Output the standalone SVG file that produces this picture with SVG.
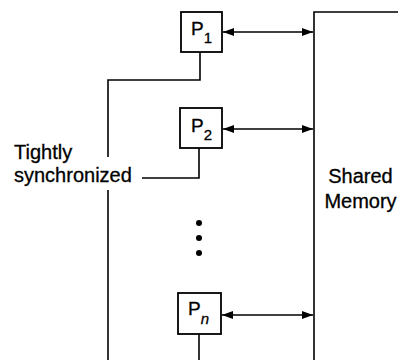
<svg xmlns="http://www.w3.org/2000/svg" width="398" height="360" viewBox="0 0 398 360">
<style>
.box{fill:#fff;stroke:#000;stroke-width:1.8}
.ln{fill:none;stroke:#000;stroke-width:1.6}
.lbl{font-family:"Liberation Sans",Arial,sans-serif;fill:#000;stroke:#000;stroke-width:0.3}
.p{font-size:19px}
.sub{font-size:15px}
.txt{font-size:20px}
</style>
<defs>
<marker id="ah" viewBox="0 0 11 8" refX="11" refY="4" markerWidth="11" markerHeight="8" markerUnits="userSpaceOnUse" orient="auto-start-reverse">
<path d="M0,0 L11,4 L0,8 Z" fill="#000"/>
</marker>
</defs>
<g id="connectors">
<line class="ln" x1="223" y1="32" x2="313" y2="32" stroke-width="2" marker-start="url(#ah)" marker-end="url(#ah)"/>
<line class="ln" x1="223" y1="129" x2="313" y2="129" marker-start="url(#ah)" marker-end="url(#ah)"/>
<line class="ln" x1="222" y1="315" x2="313" y2="315" marker-start="url(#ah)" marker-end="url(#ah)"/>
<polyline class="ln" points="200,52 200,80 108,80 108,157"/>
<line class="ln" x1="108" y1="190" x2="108" y2="360"/>
<polyline class="ln" points="199,148 199,178 142,178"/>
<line class="ln" x1="199" y1="334" x2="199" y2="360"/>
</g>
<g id="memory">
<polyline class="ln" points="314,360 314,12 398,12" stroke-width="1.8"/>
<text class="lbl txt" x="360.5" y="183" text-anchor="middle">Shared</text>
<text class="lbl txt" x="360.5" y="208" text-anchor="middle">Memory</text>
</g>
<g id="label-sync">
<text class="lbl txt" x="14" y="159">Tightly</text>
<text class="lbl txt" x="14" y="182">synchronized</text>
</g>
<g id="p1">
<rect class="box" x="181" y="12" width="41" height="40"/>
<text class="lbl p" x="191" y="35">P<tspan class="sub" dy="8">1</tspan></text>
</g>
<g id="p2">
<rect class="box" x="180" y="108" width="42" height="40"/>
<text class="lbl p" x="191" y="132">P<tspan class="sub" dy="8">2</tspan></text>
</g>
<g id="dots">
<circle cx="199" cy="223" r="3"/>
<circle cx="199" cy="238" r="3"/>
<circle cx="199" cy="253" r="3"/>
</g>
<g id="pn">
<rect class="box" x="178" y="293" width="43" height="41"/>
<text class="lbl p" x="188" y="315">P<tspan class="sub" dy="9" font-style="italic">n</tspan></text>
</g>
</svg>
